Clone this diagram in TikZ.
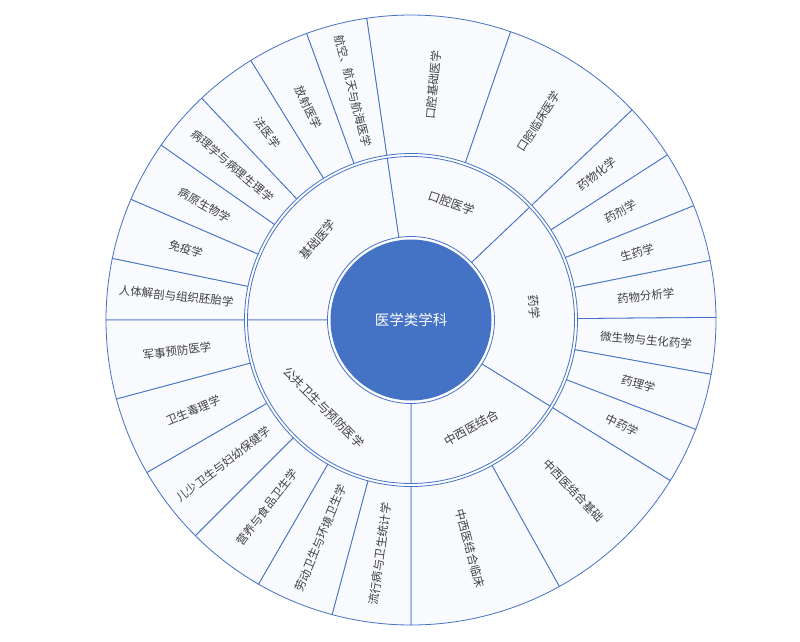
\documentclass[tikz,border=0pt]{standalone}
\usepackage{fontspec}
\setmainfont{Noto Sans CJK SC}
\definecolor{accent}{HTML}{4472C4}
\definecolor{segfill}{HTML}{F8FAFE}
\definecolor{labeltext}{HTML}{404040}
\tikzset{
  sector/.style={fill=segfill, draw=accent, line width=0.8pt, line join=round},
  outerlabel/.style={text=labeltext, font=\fontsize{11.5}{12}\selectfont, inner sep=0pt},
  midlabel/.style={text=labeltext, font=\fontsize{12}{13}\selectfont, inner sep=0pt},
  hub/.style={circle, fill=accent, draw=none, minimum size=161pt, inner sep=0pt, text=white, font=\fontsize{14.5}{16}\selectfont},
}
\begin{document}
\begin{tikzpicture}[x=1pt,y=1pt]
\useasboundingbox[fill=white] (0,0) rectangle (800,641);
\begin{scope}[shift={(411,321)}]
% outer ring
\foreach \a/\b/\t/\n in {
  180/168.33/人体解剖与组织胚胎学/1,
  168.33/156.67/免疫学/2,
  156.67/145/病原生物学/3,
  145/133.33/病理学与病理生理学/4,
  133.33/121.67/法医学/5,
  121.67/110/放射医学/6,
  110/98.33/航空、航天与航海医学/7,
  98.33/70.93/口腔基础医学/8,
  70.93/43.53/口腔临床医学/9,
  43.53/32.77/药物化学/10,
  32.77/22.01/药剂学/11,
  22.01/11.25/生药学/12,
  11.25/0.49/药物分析学/13,
  0.49/-10.27/微生物与生化药学/14,
  -10.27/-21.03/药理学/15,
  -21.03/-31.79/中药学/16,
  -31.79/-60.9/中西医结合基础/17,
  -60.9/-90/中西医结合临床/18,
  270/255/流行病与卫生统计学/19,
  255/240/劳动卫生与环境卫生学/20,
  240/225/营养与食品卫生学/21,
  225/210/儿少卫生与妇幼保健学/22,
  210/195/卫生毒理学/23,
  195/180/军事预防医学/24}{
  \path[sector] (\a:166.5) arc[start angle=\a, end angle=\b, radius=166.5]
     -- (\b:305) arc[start angle=\b, end angle=\a, radius=305] -- cycle;
  \pgfmathsetmacro\m{(\a+\b)/2}
  \pgfmathsetmacro\r{cos(\m)>=0 ? \m : \m-180}
  \node[outerlabel, rotate=\r] (o\n) at (\m:236) {\t};
}
% middle ring
\foreach \a/\b/\t/\n in {
  180/98.33/基础医学/1,
  98.33/43.53/口腔医学/2,
  43.53/-31.79/药学/3,
  -31.79/-90/中西医结合/4,
  270/180/公共卫生与预防医学/5}{
  \path[sector] (\a:83.5) arc[start angle=\a, end angle=\b, radius=83.5]
     -- (\b:163.5) arc[start angle=\b, end angle=\a, radius=163.5] -- cycle;
  \pgfmathsetmacro\m{(\a+\b)/2}
  \pgfmathsetmacro\r{sin(\m)>=0 ? \m-90 : \m+90}
  \node[midlabel, rotate=\r] (m\n) at (\m:123.5) {\t};
}
\node[hub] (c) at (0,0) {医学类学科};
\end{scope}
\end{tikzpicture}
\end{document}
